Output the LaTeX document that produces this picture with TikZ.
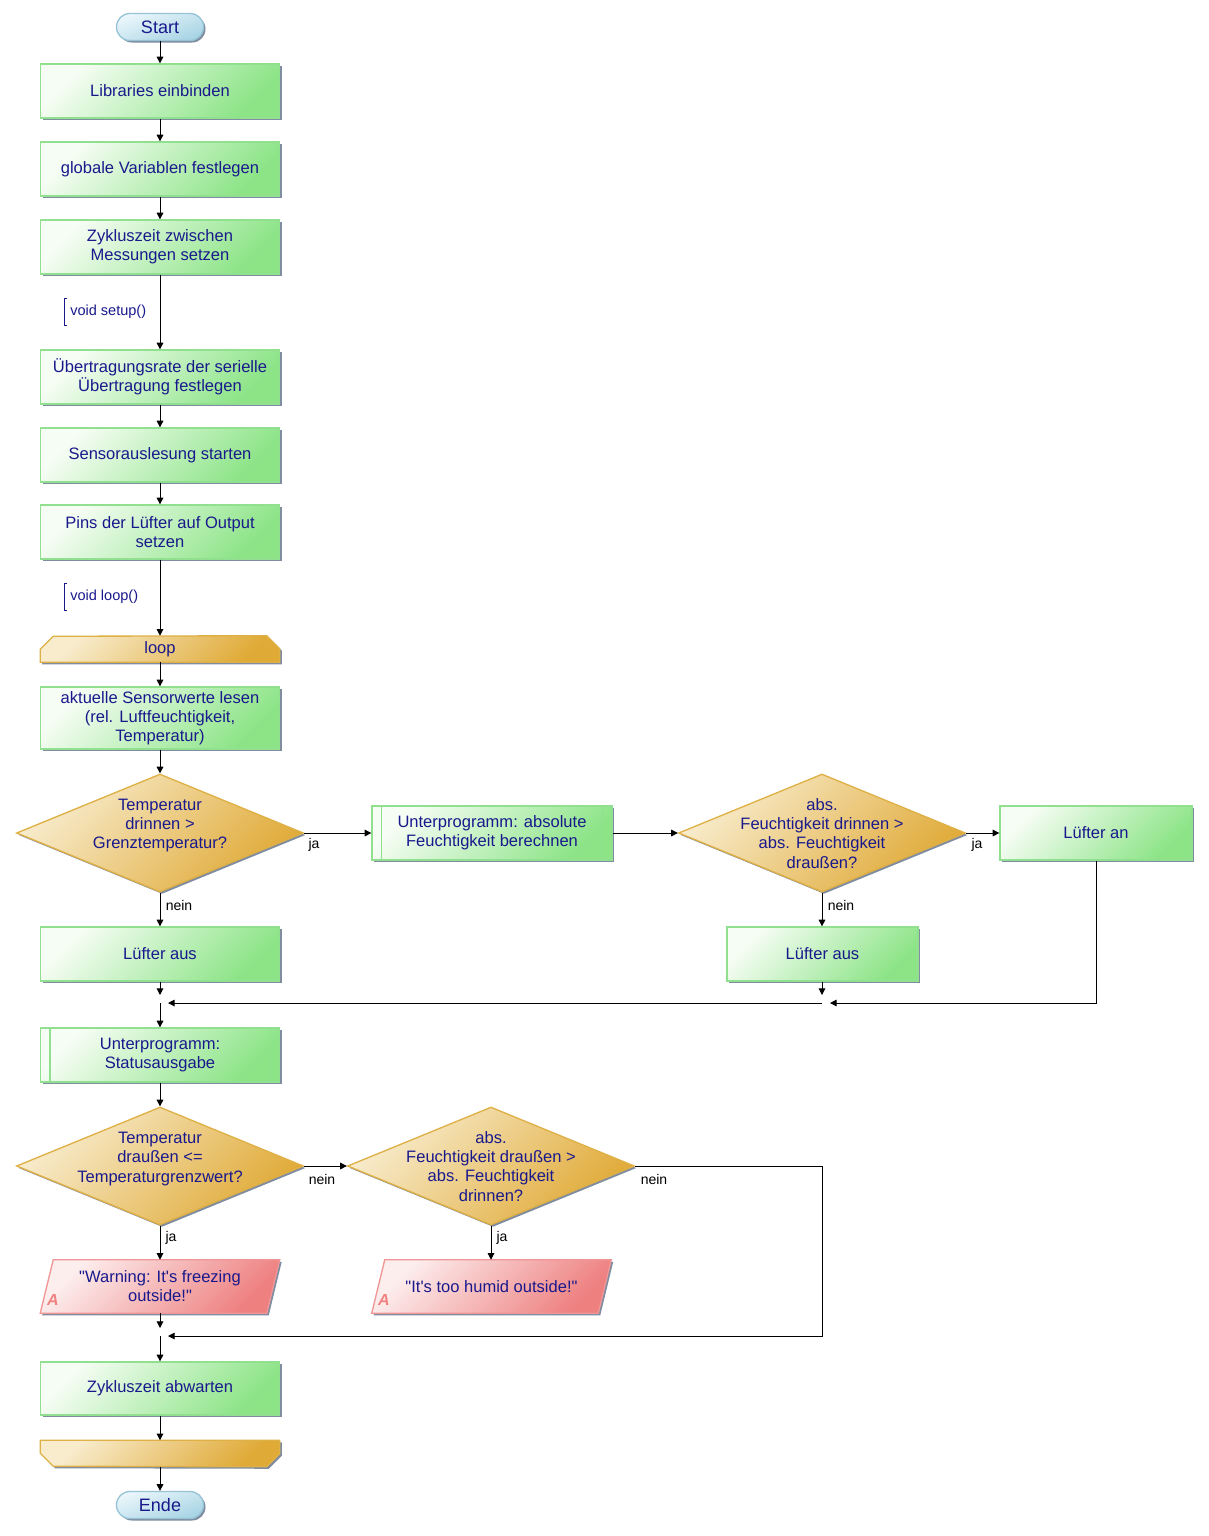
\documentclass[tikz,border=0pt]{standalone}
\usepackage{fontspec}
\setmainfont{Liberation Sans}[Ligatures=TeXOff]
\usetikzlibrary{shapes.geometric,shadows,arrows.meta,calc}
\definecolor{tc}{RGB}{25,25,140}
\definecolor{gtl}{RGB}{246,253,244}
\definecolor{gbr}{RGB}{140,228,135}
\definecolor{gbd}{RGB}{144,224,144}
\definecolor{otl}{RGB}{248,236,205}
\definecolor{obr}{RGB}{224,170,55}
\definecolor{obd}{RGB}{222,176,70}
\definecolor{btl}{RGB}{234,246,251}
\definecolor{bbr}{RGB}{168,212,228}
\definecolor{bbd}{RGB}{150,196,214}
\definecolor{ptl}{RGB}{253,238,238}
\definecolor{pbr}{RGB}{238,128,128}
\definecolor{pbd}{RGB}{240,150,150}
\definecolor{shc}{RGB}{128,140,160}
\definecolor{apink}{RGB}{240,130,130}
\pgfdeclarelayer{bg}
\pgfdeclarelayer{canvas}
\pgfsetlayers{canvas,bg,main}
\tikzset{
  shd/.style={drop shadow={shadow xshift=1.5pt,shadow yshift=-1.5pt,fill=shc,opacity=1}},
  boxtext/.style={font=\fontsize{12.4}{14.3}\selectfont, text=tc, align=center},
  proc/.style={boxtext, draw=gbd, line width=1pt, top color=gtl, bottom color=gbr, shading angle=45,
    minimum width=179.25pt, minimum height=40.5pt, inner sep=0pt, shd},
  term/.style={font=\fontsize{13.5}{15}\selectfont, text=tc, draw=bbd, line width=1pt,
    top color=btl, bottom color=bbr, shading angle=20, rounded corners=10pt,
    minimum width=65.25pt, minimum height=20.25pt, inner sep=0pt, shd},
  dia/.style={diamond, draw=obd, line width=1pt, top color=otl, bottom color=obr, shading angle=45,
    minimum width=215.25pt, minimum height=88.5pt, inner sep=0pt, shd},
  dtxt/.style={boxtext, inner sep=0pt},
  ghost/.style={boxtext, minimum width=179.25pt, inner sep=0pt},
  goldshape/.style={draw=obd, line width=1pt, top color=otl, bottom color=obr, shading angle=45, shd},
  pinkshape/.style={draw=pbd, line width=1pt, top color=ptl, bottom color=pbr, shading angle=45, shd},
  lbl/.style={font=\fontsize{10.5}{12}\selectfont, text=black, inner sep=0pt},
  anno/.style={font=\fontsize{10.9}{12}\selectfont, text=tc, inner xsep=4.5pt, inner ysep=1.5pt, minimum height=20pt, anchor=west},
  annob/.style={draw=tc, line width=0.75pt},
  alet/.style={font=\fontsize{12}{12}\selectfont\itshape\bfseries, text=apink, inner sep=0pt},
  arr/.style={-{Triangle[length=5pt,width=5pt]}, line width=0.75pt, draw=black},
  short/.style={shorten >=6pt},
}
\begin{document}
\begin{tikzpicture}[x=0.75pt,y=-0.75pt]
\useasboundingbox (0,0) rectangle (1209,1536);
\begin{pgfonlayer}{canvas}
\fill[white] (0,0) rectangle (1209,1536);
\end{pgfonlayer}

% main column
\node[term] (start) at (160,27) {Start};
\node[proc] (lib) at (160,91) {Libraries einbinden};
\node[proc] (glob) at (160,169) {globale Variablen festlegen};
\node[proc] (zyk) at (160,247) {Zykluszeit zwischen\\Messungen setzen};
\node[anno] (vs) at (64,312) {void setup()};
\draw[annob] ($(vs.north west)+(3,0)$) -- (vs.north west) -- (vs.south west) -- ++(3,0);
\node[proc] (ueb) at (160,377) {Übertragungsrate der serielle\\Übertragung festlegen};
\node[proc] (sens) at (160,455) {Sensorauslesung starten};
\node[proc] (pins) at (160,532) {Pins der Lüfter auf Output\\setzen};
\node[anno] (vl) at (64,597) {void loop()};
\draw[annob] ($(vl.north west)+(3,0)$) -- (vl.north west) -- (vl.south west) -- ++(3,0);

\node[ghost, minimum height=19.5pt] (loop) at (160,649) {loop};
\begin{pgfonlayer}{bg}
\path[goldshape] (loop.south west) -- ++(0,-13) -- ++(13,-13) -- ($(loop.north east)+(-13,0)$)
  -- ++(13,13) -- (loop.south east) -- cycle;
\end{pgfonlayer}

\node[proc, minimum height=46.5pt] (akt) at (160,718) {aktuelle Sensorwerte lesen\\(rel. Luftfeuchtigkeit,\\Temperatur)};

\node[dia] (d1) at (160,833) {};
\node[dtxt] (d1t) at (160,825.5) {Temperatur\\drinnen >\\Grenztemperatur?};

\node[proc, minimum width=180pt] (up1) at (492,833) {Unterprogramm: absolute\\Feuchtigkeit berechnen};
\draw[draw=gbd, line width=1pt] ($(up1.north west)+(10,0)$) -- ($(up1.south west)+(10,0)$);
\draw[draw=gbd, line width=1pt] ($(up1.north east)+(-10,0)$) -- ($(up1.south east)+(-10,0)$);

\node[dia] (d2) at (822,833) {};
\node[dtxt] (d2t) at (822,833.5) {abs.\\Feuchtigkeit drinnen >\\abs. Feuchtigkeit\\draußen?};

\node[proc, minimum width=144pt] (an) at (1096,833) {Lüfter an};

\node[proc] (aus1) at (160,954) {Lüfter aus};
\node[proc, minimum width=143.25pt] (aus2) at (822.5,954) {Lüfter aus};

\coordinate (j1) at (160,1003);
\coordinate (j2) at (822,1003);

\node[proc] (stat) at (160,1055) {Unterprogramm:\\Statusausgabe};
\draw[draw=gbd, line width=1pt] ($(stat.north west)+(10,0)$) -- ($(stat.south west)+(10,0)$);
\draw[draw=gbd, line width=1pt] ($(stat.north east)+(-10,0)$) -- ($(stat.south east)+(-10,0)$);

\node[dia] (d3) at (160,1166) {};
\node[dtxt] (d3t) at (160,1159) {Temperatur\\draußen <=\\Temperaturgrenzwert?};
\node[dia] (d4) at (491,1166) {};
\node[dtxt] (d4t) at (491,1166.5) {abs.\\Feuchtigkeit draußen >\\abs. Feuchtigkeit\\drinnen?};

\node[ghost, minimum height=39.75pt] (warn) at (160,1286.5) {"Warning: It's freezing\\outside!"};
\node[ghost, minimum height=39.75pt] (hum) at (491.5,1286.5) {"It's too humid outside!"};
\begin{pgfonlayer}{bg}
\path[pinkshape] (warn.south west) -- ($(warn.north west)+(13,0)$) -- (warn.north east)
  -- ($(warn.south east)+(-13,0)$) -- cycle;
\path[pinkshape] (hum.south west) -- ($(hum.north west)+(13,0)$) -- (hum.north east)
  -- ($(hum.south east)+(-13,0)$) -- cycle;
\end{pgfonlayer}
\node[alet] (wa) at (53,1300) {A};
\node[alet] (ha) at (384,1300) {A};

\coordinate (j3) at (160,1336);
\coordinate (c4) at (822,1336);

\node[proc, minimum height=39.75pt] (zyk2) at (160,1388.5) {Zykluszeit abwarten};

\node[ghost, minimum height=19.5pt] (endl) at (160,1453.5) {};
\begin{pgfonlayer}{bg}
\path[goldshape] (endl.north west) -- ++(0,13) -- ++(13,13) -- ($(endl.south east)+(-13,0)$)
  -- ++(13,-13) -- (endl.north east) -- cycle;
\end{pgfonlayer}

\node[term] (ende) at (160,1505) {Ende};

% connectors
\draw[arr] (start) -- (lib);
\draw[arr] (lib) -- (glob);
\draw[arr] (glob) -- (zyk);
\draw[arr] (zyk) -- (ueb);
\draw[arr] (ueb) -- (sens);
\draw[arr] (sens) -- (pins);
\draw[arr] (pins) -- (loop.north);
\draw[arr] (loop.south) -- (akt);
\draw[arr] (akt) -- (d1.north);
\draw[arr] (d1.east) -- (up1.west);
\draw[arr] (up1.east) -- (d2.west);
\draw[arr] (d2.east) -- (an.west);
\draw[arr] (d1.south) -- (aus1.north);
\draw[arr] (d2.south) -- (aus2.north -| d2.south);
\draw[arr,short] (an.south) |- (j2);
\draw[arr,short] (aus2.south -| j2) -- (j2);
\draw[arr,short] (j2) -- (j1);
\draw[arr,short] (aus1.south) -- (j1);
\draw[arr] (j1) -- (stat.north);
\draw[arr] (stat.south) -- (d3.north);
\draw[arr] (d3.east) -- (d4.west);
\draw[arr] (d3.south) -- (warn.north);
\draw[arr] (d4.south) -- (hum.north -| d4.south);
\draw[arr,short] (d4.east) -| (c4) -- (j3);
\draw[arr,short] (warn.south) -- (j3);
\draw[arr] (j3) -- (zyk2.north);
\draw[arr] (zyk2.south) -- (endl.north);
\draw[arr] (endl.south) -- (ende.north);

% labels
\node[lbl] (l1) at (314,845) {ja};
\node[lbl] (l2) at (977,845) {ja};
\node[lbl] (l3) at (179,905) {nein};
\node[lbl] (l4) at (841,905) {nein};
\node[lbl] (l5) at (322,1179) {nein};
\node[lbl] (l6) at (654,1179) {nein};
\node[lbl] (l7) at (171,1238) {ja};
\node[lbl] (l8) at (502,1238) {ja};
\end{tikzpicture}
\end{document}
